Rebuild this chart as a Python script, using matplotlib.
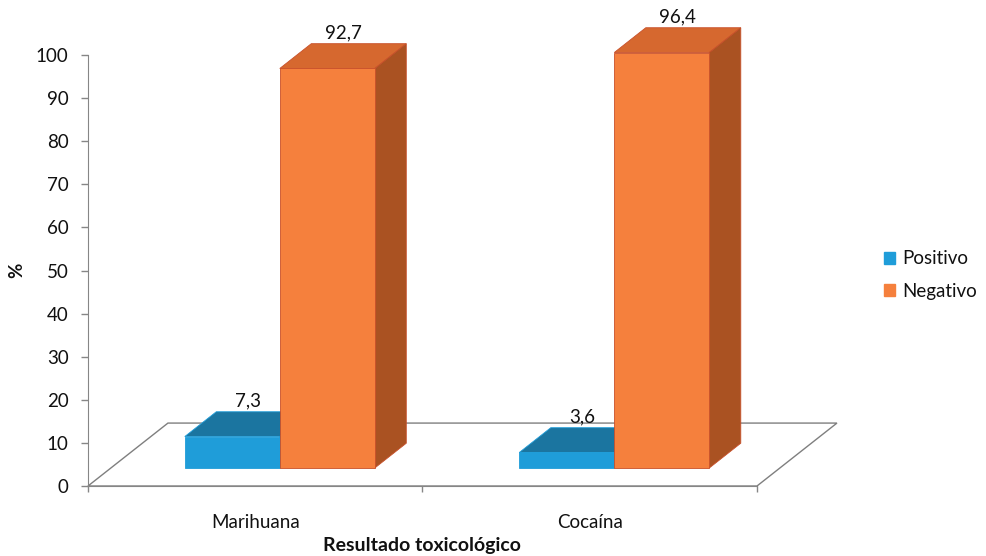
import matplotlib.pyplot as plt
from matplotlib.patches import Polygon, Patch

# Datos
categorias = ["Marihuana", "Cocaína"]
series = ["Positivo", "Negativo"]
positivo = [7.3, 3.6]
negativo = [92.7, 96.4]
yticks = list(range(0, 101, 10))

# colores: frente, tapa, lateral
colores = {
    "Positivo": ("#1f9dd9", "#1b75a0", "#17638a"),
    "Negativo": ("#f5803d", "#d6682f", "#aa5222"),
}
bordes = {"Positivo": "#1f9dd9", "Negativo": "#c8502a"}

plt.rcParams["font.family"] = ["Lato", "DejaVu Sans"]

fig = plt.figure(figsize=(9.87, 5.56), dpi=100)
ax = fig.add_axes([88 / 987, 70 / 556, 669 / 987, 431 / 556])
ax.set_xlim(0, 2)
ax.set_ylim(0, 100)

# profundidad del "piso" 3D en unidades de datos
piso_dx = 0.239
piso_dy = 14.6
f0, f1 = 0.286, 0.68   # plano frontal y trasero de las barras
ancho = 0.284

# piso
piso = Polygon([(0, 0), (2, 0), (2 + piso_dx, piso_dy), (piso_dx, piso_dy)],
               closed=True, facecolor="white", edgecolor="#7f7f7f",
               lw=1, clip_on=False, zorder=1)
ax.add_patch(piso)


def barra3d(x0, h, nombre):
    frente, tapa, lado = colores[nombre]
    ox0, oy0 = f0 * piso_dx, f0 * piso_dy
    ox1, oy1 = f1 * piso_dx, f1 * piso_dy
    ec = bordes[nombre]
    cara_f = [(x0 + ox0, oy0), (x0 + ancho + ox0, oy0),
              (x0 + ancho + ox0, h + oy0), (x0 + ox0, h + oy0)]
    cara_t = [(x0 + ox0, h + oy0), (x0 + ancho + ox0, h + oy0),
              (x0 + ancho + ox1, h + oy1), (x0 + ox1, h + oy1)]
    cara_l = [(x0 + ancho + ox0, oy0), (x0 + ancho + ox1, oy1),
              (x0 + ancho + ox1, h + oy1), (x0 + ancho + ox0, h + oy0)]
    for pts, c in [(cara_t, tapa), (cara_l, lado), (cara_f, frente)]:
        ax.add_patch(Polygon(pts, closed=True, facecolor=c, edgecolor=ec,
                             lw=0.6, clip_on=False, zorder=3))
    # etiqueta sobre la tapa
    cx = x0 + ancho / 2 + (ox0 + ox1) / 2
    ax.annotate(f"{h:.1f}".replace(".", ","), (cx, h + oy1),
                xytext=(0, 2), textcoords="offset points",
                ha="center", va="bottom", fontsize=13.5, color="#111111",
                annotation_clip=False, zorder=4)


for i, cat in enumerate(categorias):
    x_ini = i + 0.505 - ancho
    barra3d(x_ini, positivo[i], "Positivo")
    barra3d(x_ini + ancho, negativo[i], "Negativo")

# ejes
for s in ["top", "right"]:
    ax.spines[s].set_visible(False)
for s in ["left", "bottom"]:
    ax.spines[s].set_color("#868686")
    ax.spines[s].set_zorder(2)

ax.set_yticks(yticks)
ax.tick_params(axis="y", length=5, width=1, color="#868686", pad=9,
               labelsize=13.5, labelcolor="#111111")
ax.set_xticks([0, 1, 2])
ax.set_xticklabels([])
ax.tick_params(axis="x", which="major", length=4.5, width=1, color="#868686")
ax.set_xticks([0.5, 1.5], minor=True)
ax.set_xticklabels(categorias, minor=True)
ax.tick_params(axis="x", which="minor", length=0, pad=20,
               labelsize=13.5, labelcolor="#111111")

fig.text(422 / 987, 1 - 545 / 556, "Resultado toxicológico", ha="center",
         va="center", fontsize=14, fontweight="bold", color="#111111")
fig.text(17 / 987, 1 - 270 / 556, "%", ha="center", va="center",
         rotation=90, fontsize=13.5, fontweight="bold", color="#111111")

handles = [Patch(facecolor=colores[s][0], edgecolor=colores[s][0]) for s in series]
fig.legend(handles, series, loc="center left",
           bbox_to_anchor=(884 / 987, 1 - 275 / 556), frameon=False,
           fontsize=13.5, handlelength=0.6, handleheight=0.6,
           handletextpad=0.4, labelspacing=0.8, borderpad=0,
           borderaxespad=0, labelcolor="#111111")

fig.savefig("out.png", dpi=100)
